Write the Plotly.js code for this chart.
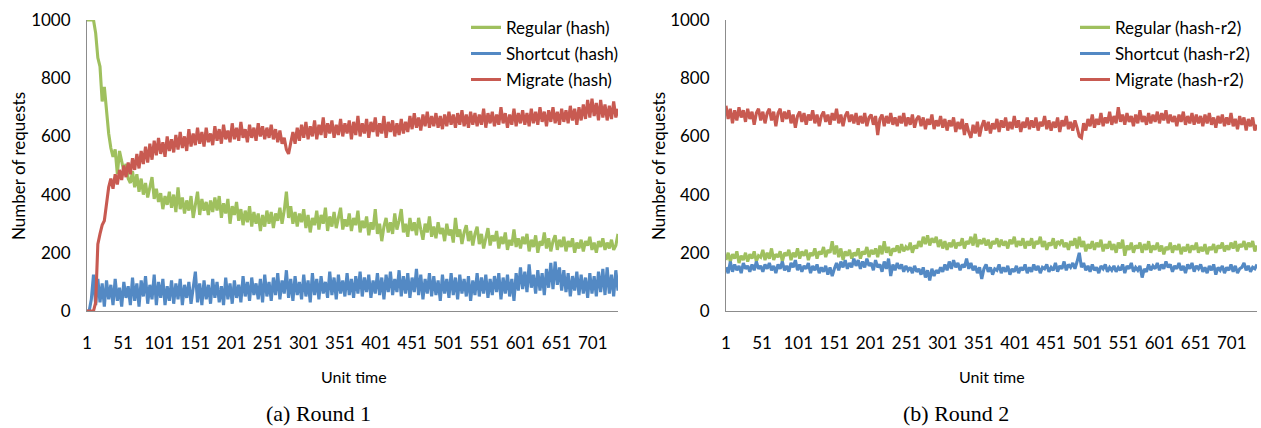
<!DOCTYPE html>
<html>
<head>
<meta charset="utf-8">
<script src="https://cdn.plot.ly/plotly-3.0.1.min.js"></script>
<style>html,body{margin:0;padding:0;background:#fff}#chart{width:1261px;height:428px}</style>
</head>
<body>
<div id="chart"></div>
<script>
// Unit time categories (every 3rd unit sampled)
const unitTime = [];
for (let t = 1; t <= 736; t += 3) unitTime.push(t);

const xTickVals = [1,51,101,151,201,251,301,351,401,451,501,551,601,651,701];
const xTickText = ['1','51','101','151','201','251','301','351','401','451','501','551','601','651','701'];
const yTickVals = [0,200,400,600,800,1000];
const yTickText = ['0','200','400','600','800','1000'];

// Round 1
const r1Regular = [
1000,1000,1000,1000,955,870,840,720,770,690,610,560,530,555,470,550,520,480,505,455,
440,480,425,470,410,455,400,440,390,430,460,385,420,375,405,350,395,365,410,355,
400,340,425,350,390,335,380,345,395,320,370,410,330,385,345,375,330,380,340,390,
345,395,320,370,335,385,300,360,330,375,310,350,295,345,305,360,290,340,300,335,
275,330,290,345,300,340,285,335,310,355,300,345,410,320,360,300,340,290,335,305,
350,285,330,270,320,295,345,280,330,300,355,275,325,290,340,285,320,355,280,315,
290,335,275,320,295,345,270,310,285,325,260,305,280,350,265,300,240,290,320,270,
305,265,335,280,310,350,270,300,255,320,275,305,260,320,280,245,300,270,325,255,
290,250,305,265,285,240,300,260,280,235,320,255,280,230,270,295,240,275,225,265,
290,230,265,215,250,285,225,260,240,275,215,255,230,270,210,245,225,280,220,250,
215,255,230,265,205,245,220,260,200,240,225,270,215,250,205,240,260,210,245,220,
255,205,240,220,250,200,235,215,245,205,240,225,255,210,235,200,240,220,250,210,
235,215,245,210,225,265];
const r1Shortcut = [
0,0,40,125,20,110,30,95,15,105,40,90,20,110,35,80,15,100,45,85,
20,115,35,95,15,105,50,120,25,90,40,125,20,100,45,110,20,85,35,105,
25,95,40,110,20,90,45,100,25,85,135,30,95,20,105,40,90,25,110,45,
100,30,85,20,115,40,95,25,105,45,90,30,120,50,100,35,115,55,95,40,
110,30,125,50,100,35,115,55,130,40,105,60,140,45,110,35,120,55,100,40,
125,50,105,30,130,55,110,40,120,60,100,45,135,55,115,40,125,60,105,50,
130,55,110,45,120,60,135,50,115,65,125,45,105,60,130,55,115,40,125,65,
135,55,110,65,140,50,120,60,130,45,115,65,145,55,125,40,110,60,130,50,
120,55,105,35,125,60,110,45,130,55,115,40,125,60,110,50,120,35,105,55,
130,50,115,60,125,45,110,55,120,65,130,40,115,60,125,50,110,35,130,70,
150,75,135,65,160,80,125,60,140,70,130,55,145,80,165,75,170,90,150,70,
140,65,130,50,120,70,135,55,125,60,115,45,130,60,120,50,135,65,145,55,
150,60,125,50,140,70];
const r1Migrate = [
0,0,0,0,30,230,265,295,310,370,425,455,420,470,435,485,450,500,460,510,
470,525,485,540,490,550,505,565,510,575,520,585,535,595,540,580,530,600,550,590,
545,605,555,615,560,600,550,625,565,610,570,630,575,615,565,630,580,610,570,635,
585,625,575,640,590,620,580,645,590,630,585,650,595,625,580,640,595,630,585,645,
600,635,590,630,595,640,590,625,580,620,575,595,555,540,580,615,575,630,585,640,
595,650,590,635,600,655,590,640,605,665,595,645,610,655,595,640,605,660,600,645,
610,655,590,650,605,670,600,645,610,660,595,650,615,665,600,645,610,670,595,650,
615,655,600,645,605,660,610,650,615,670,625,680,630,665,620,675,635,685,630,670,
635,680,630,670,625,675,635,685,640,675,630,680,640,690,635,675,630,685,640,680,
635,675,640,695,630,680,645,685,635,675,640,700,645,680,630,675,640,695,635,680,
645,690,640,680,635,695,645,685,640,700,650,685,635,690,650,700,645,685,640,695,
650,690,645,705,655,695,640,700,655,710,660,725,665,730,670,715,655,725,665,710,
655,705,660,720,665,695];

// Round 2
const r2Regular = [
175,200,170,195,180,205,165,190,175,200,170,195,180,205,170,190,185,210,175,200,
180,215,175,195,185,205,170,200,190,210,175,200,185,215,180,205,190,210,175,200,
190,215,180,205,195,220,185,210,200,240,195,225,185,215,175,205,190,210,180,200,
190,215,180,205,195,220,185,210,195,215,185,225,195,240,200,220,190,215,205,225,
200,230,205,220,210,235,200,225,215,240,220,255,230,260,225,250,235,255,220,245,
215,240,210,235,220,245,215,235,225,250,215,240,230,255,225,265,220,245,230,250,
225,245,215,240,230,250,220,245,225,240,215,245,230,255,220,240,225,250,215,240,
225,250,215,240,230,255,220,240,210,235,225,250,215,240,230,245,220,235,210,240,
225,250,215,255,220,240,205,230,215,240,210,235,220,245,205,230,215,240,210,230,
200,235,215,245,190,225,210,235,200,225,215,235,200,230,210,240,200,225,210,235,
205,225,195,220,210,235,200,225,210,230,195,220,205,230,200,225,210,235,200,220,
205,230,195,220,210,230,200,225,215,235,205,225,210,235,215,240,205,230,220,240,
210,235,220,240,205,225];
const r2Shortcut = [
150,130,170,135,160,140,155,130,165,145,155,135,160,140,170,145,155,135,160,145,
165,140,155,130,160,145,170,140,155,135,165,150,175,140,160,135,155,145,165,130,
155,140,160,130,150,135,155,125,150,120,145,165,140,170,150,175,145,165,150,180,
155,175,145,170,150,180,155,165,140,175,150,160,135,170,145,180,120,160,140,165,
145,160,135,155,140,150,130,155,135,145,125,150,115,140,105,145,120,140,130,150,
135,160,140,170,145,175,150,165,140,160,150,180,145,165,140,155,130,150,110,145,
160,135,150,125,145,140,160,130,150,135,155,125,145,135,155,130,150,140,160,130,
150,135,160,140,155,130,150,145,160,135,150,140,165,135,155,145,170,140,160,150,
165,145,170,200,150,165,140,155,135,160,140,150,130,155,145,160,135,150,140,155,
135,150,140,160,130,155,145,165,135,150,140,155,115,145,135,160,140,155,145,165,
140,160,145,170,150,160,135,155,145,165,140,155,130,160,145,165,135,155,145,160,
135,150,130,155,140,160,125,150,140,155,130,150,140,160,135,155,130,145,150,165,
140,155,135,150,145,160];
const r2Migrate = [
705,660,695,645,690,655,700,665,690,650,695,660,685,640,680,695,655,685,645,680,
695,655,685,635,680,695,650,685,660,690,645,675,630,670,685,650,680,640,675,655,
690,645,675,635,670,685,650,675,640,680,655,695,645,675,635,670,685,650,675,645,
680,640,670,645,680,635,665,675,640,670,605,660,675,635,670,645,680,640,665,635,
670,645,680,635,665,640,675,630,660,670,635,665,625,660,640,675,625,655,635,670,
630,660,620,655,635,665,615,650,625,660,605,645,615,595,640,610,650,600,635,655,
620,650,610,645,625,660,615,655,630,665,620,650,625,670,630,655,615,650,630,665,
625,655,630,665,620,650,635,670,625,655,620,650,630,665,615,655,635,670,625,650,
620,655,630,600,595,645,620,660,635,675,630,660,640,680,635,665,645,685,640,670,
645,700,650,675,640,680,650,670,635,675,645,690,650,670,640,680,645,675,650,685,
645,680,655,690,645,675,650,670,635,675,650,685,640,670,645,680,640,675,645,670,
635,675,645,680,640,665,630,670,645,675,635,665,640,680,635,660,625,670,640,665,
620,660,635,665,620,640];

const seriesNames1 = ['Regular (hash)','Shortcut (hash)','Migrate (hash)'];
const seriesNames2 = ['Regular (hash-r2)','Shortcut (hash-r2)','Migrate (hash-r2)'];

const GREEN = '#9FC05E', BLUE = '#5389C4', RED = '#C85A51';
const colors = [GREEN, BLUE, RED];
const FONT = 'Lato, "Open Sans", sans-serif';
const W = 1261;

const r1 = [r1Regular, r1Shortcut, r1Migrate];
const r2 = [r2Regular, r2Shortcut, r2Migrate];
const traces = [];
r1.forEach((ys, i) => traces.push({
  x: unitTime, y: ys, type: 'scatter', mode: 'lines', name: seriesNames1[i],
  line: {color: colors[i], width: 3.1}, xaxis: 'x', yaxis: 'y',
  legend: 'legend', legendgroup: 'a' + i, hoverinfo: 'skip'
}));
r2.forEach((ys, i) => traces.push({
  x: unitTime, y: ys, type: 'scatter', mode: 'lines', name: seriesNames2[i],
  line: {color: colors[i], width: 3.1}, xaxis: 'x2', yaxis: 'y2',
  legend: 'legend2', legendgroup: 'b' + i, hoverinfo: 'skip'
}));

const axisLine = '#8C8C8C';
function xAxis(domain, anchor) {
  return {
    domain: domain, anchor: anchor, range: [1, 736], autorange: false,
    tickmode: 'array', tickvals: xTickVals, ticktext: xTickText,
    showline: true, linecolor: axisLine, linewidth: 1, showgrid: false, zeroline: false,
    ticks: 'outside', ticklen: 17, tickcolor: 'rgba(0,0,0,0)',
    tickfont: {family: FONT, size: 17, color: '#000'}
  };
}
function yAxis(anchor) {
  return {
    anchor: anchor, range: [0, 1000], autorange: false,
    tickmode: 'array', tickvals: yTickVals, ticktext: yTickText,
    showline: true, linecolor: axisLine, linewidth: 1, showgrid: false, zeroline: false,
    ticks: 'outside', ticklen: 12, tickcolor: 'rgba(0,0,0,0)',
    tickfont: {family: FONT, size: 17, color: '#000'}
  };
}
function legendAt(xpx) {
  return {
    x: xpx / W, y: 1.035, xanchor: 'left', yanchor: 'top',
    bgcolor: 'rgba(0,0,0,0)', borderwidth: 0,
    font: {family: FONT, size: 17, color: '#000'},
    traceorder: 'grouped', tracegroupgap: 1, itemwidth: 30
  };
}
const pyPx = y => (311 - y) / 291;
const annFont = s => ({family: FONT, size: s, color: '#000'});
const capFont = {family: '"Liberation Serif", "Times New Roman", serif', size: 22, color: '#000'};
const annotations = [
  {text: 'Number of requests', x: 18 / W, y: pyPx(166), xref: 'paper', yref: 'paper', textangle: -90, showarrow: false, font: annFont(17), xanchor: 'center', yanchor: 'middle'},
  {text: 'Number of requests', x: 658 / W, y: pyPx(166), xref: 'paper', yref: 'paper', textangle: -90, showarrow: false, font: annFont(17), xanchor: 'center', yanchor: 'middle'},
  {text: 'Unit time', x: 354 / W, y: pyPx(376), xref: 'paper', yref: 'paper', showarrow: false, font: annFont(16), xanchor: 'center', yanchor: 'middle'},
  {text: 'Unit time', x: 992 / W, y: pyPx(376), xref: 'paper', yref: 'paper', showarrow: false, font: annFont(16), xanchor: 'center', yanchor: 'middle'},
  {text: '(a) Round 1', x: 318 / W, y: pyPx(413), xref: 'paper', yref: 'paper', showarrow: false, font: capFont, xanchor: 'center', yanchor: 'middle'},
  {text: '(b) Round 2', x: 956 / W, y: pyPx(413), xref: 'paper', yref: 'paper', showarrow: false, font: capFont, xanchor: 'center', yanchor: 'middle'}
];

const layout = {
  width: 1261, height: 428,
  margin: {l: 0, r: 0, t: 20, b: 117, pad: 0},
  paper_bgcolor: '#fff', plot_bgcolor: '#fff',
  showlegend: true,
  xaxis: xAxis([87 / W, 618 / W], 'y'),
  yaxis: yAxis('x'),
  xaxis2: xAxis([726 / W, 1257 / W], 'y2'),
  yaxis2: yAxis('x2'),
  legend: legendAt(466),
  legend2: legendAt(1075),
  annotations: annotations
};

Plotly.newPlot('chart', traces, layout, {displayModeBar: false, staticPlot: true});
</script>
</body>
</html>
